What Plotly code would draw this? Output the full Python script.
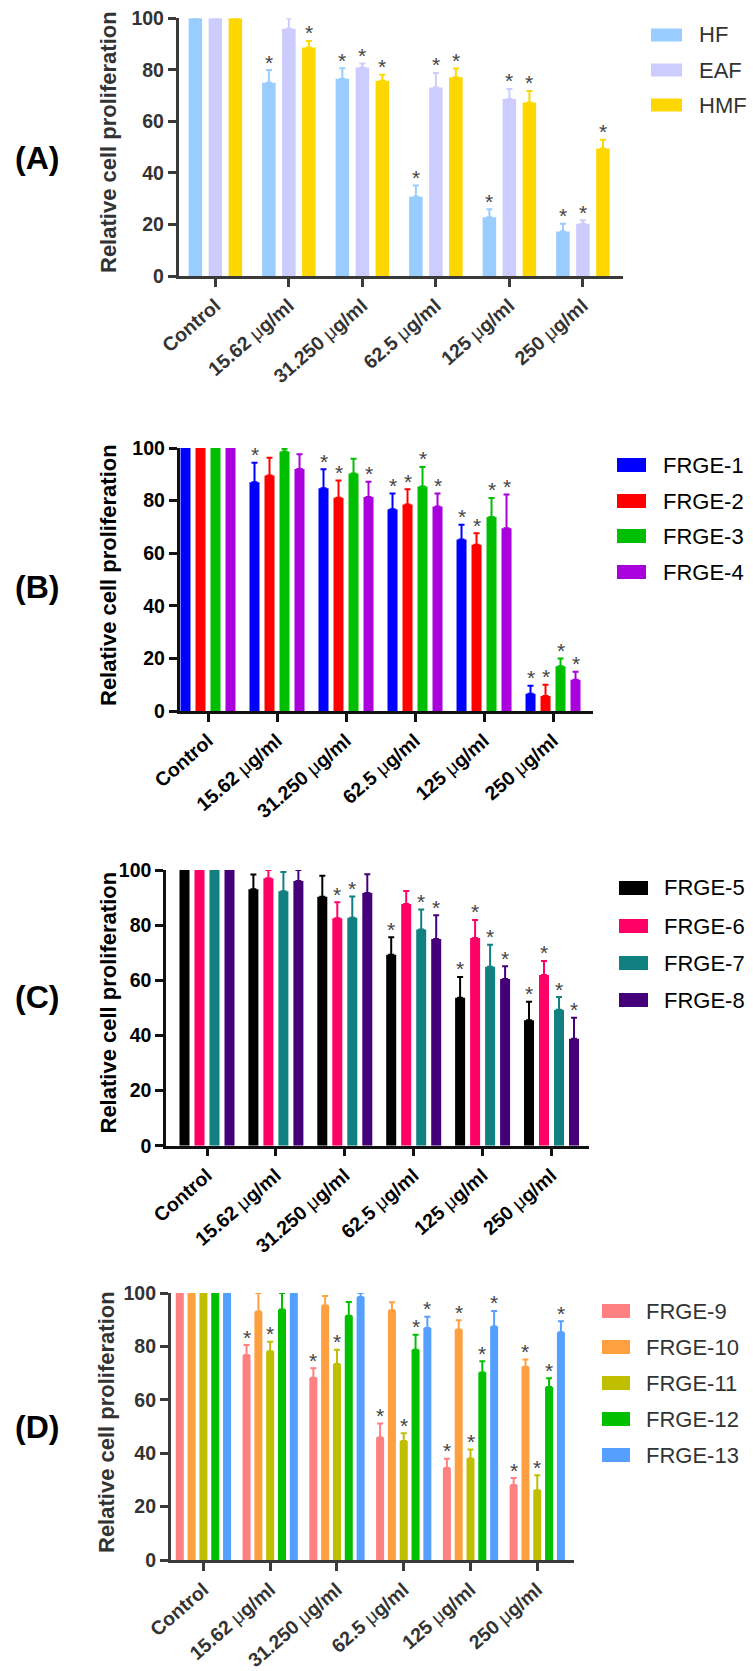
import plotly.graph_objects as go

W, H = 753, 1671

categories = ["Control", "15.62 μg/ml", "31.250 μg/ml", "62.5 μg/ml", "125 μg/ml", "250 μg/ml"]

# ---- Panel A ----
a_names = ["HF", "EAF", "HMF"]
a_colors = ["#99CCFF", "#CCCCFF", "#FFD700"]
a_hf = [100, 75.0, 76.5, 30.8, 22.8, 17.3]
a_hf_err = [0, 4.9, 4.1, 4.3, 3.1, 3.0]
a_hf_sig = [0, 1, 1, 1, 1, 1]
a_eaf = [100, 95.9, 80.9, 73.1, 68.7, 20.3]
a_eaf_err = [0, 4.1, 1.6, 5.7, 3.9, 1.3]
a_eaf_sig = [0, 0, 1, 1, 1, 1]
a_hmf = [100, 88.7, 75.8, 77.1, 67.3, 49.5]
a_hmf_err = [0, 2.5, 2.3, 3.4, 4.5, 3.4]
a_hmf_sig = [0, 1, 1, 1, 1, 1]

# ---- Panel B ----
b_names = ["FRGE-1", "FRGE-2", "FRGE-3", "FRGE-4"]
b_colors = ["#0000FF", "#FF0000", "#00BF00", "#AA00DD"]
b_1 = [100, 87.0, 84.7, 76.7, 65.2, 6.6]
b_1_err = [0, 7.4, 7.2, 6.0, 5.6, 3.0]
b_1_sig = [0, 1, 1, 1, 1, 1]
b_2 = [100, 89.5, 81.1, 78.5, 63.2, 5.7]
b_2_err = [0, 6.8, 6.5, 5.8, 4.4, 4.3]
b_2_sig = [0, 0, 1, 1, 1, 1]
b_3 = [100, 98.7, 90.3, 85.4, 73.8, 17.0]
b_3_err = [0, 1.0, 5.6, 7.4, 7.2, 3.0]
b_3_sig = [0, 0, 0, 1, 1, 1]
b_4 = [100, 92.0, 81.4, 77.8, 69.5, 11.9]
b_4_err = [0, 5.6, 5.8, 4.9, 12.8, 3.0]
b_4_sig = [0, 0, 1, 1, 1, 1]

# ---- Panel C ----
c_names = ["FRGE-5", "FRGE-6", "FRGE-7", "FRGE-8"]
c_colors = ["#000000", "#FF0066", "#108080", "#440078"]
c_5 = [100, 93.0, 90.3, 69.3, 53.7, 45.5]
c_5_err = [0, 5.4, 7.6, 6.3, 7.5, 6.7]
c_5_sig = [0, 0, 0, 1, 1, 1]
c_6 = [100, 97.0, 82.5, 87.7, 75.3, 61.9]
c_6_err = [0, 3.0, 5.8, 4.7, 6.6, 5.1]
c_6_sig = [0, 0, 1, 0, 1, 1]
c_7 = [100, 92.3, 82.7, 78.4, 64.9, 49.3]
c_7_err = [0, 7.0, 7.7, 7.3, 8.0, 4.6]
c_7_sig = [0, 0, 1, 1, 1, 1]
c_8 = [100, 96.0, 91.7, 75.0, 60.5, 38.8]
c_8_err = [0, 4.0, 6.8, 8.6, 4.6, 7.6]
c_8_sig = [0, 0, 0, 1, 1, 1]

# ---- Panel D ----
d_names = ["FRGE-9", "FRGE-10", "FRGE-11", "FRGE-12", "FRGE-13"]
d_colors = ["#FF8080", "#FFA040", "#BFBF00", "#00C000", "#55A0FF"]
d_9 = [100, 76.8, 68.3, 45.9, 34.5, 28.1]
d_9_err = [0, 3.7, 3.5, 5.2, 3.4, 2.6]
d_9_sig = [0, 1, 1, 1, 1, 1]
d_10 = [100, 93.1, 95.3, 93.5, 86.3, 72.4]
d_10_err = [0, 6.9, 3.6, 3.0, 3.5, 2.7]
d_10_sig = [0, 0, 0, 0, 1, 1]
d_11 = [100, 78.2, 73.4, 44.6, 38.0, 26.1]
d_11_err = [0, 3.5, 5.3, 2.9, 3.4, 5.6]
d_11_sig = [0, 1, 1, 1, 1, 1]
d_12 = [100, 93.8, 91.5, 78.7, 70.2, 64.8]
d_12_err = [0, 6.2, 5.1, 5.7, 4.2, 3.3]
d_12_sig = [0, 0, 0, 1, 1, 1]
d_13 = [100, 100, 98.5, 86.9, 87.5, 85.3]
d_13_err = [0, 0, 1.5, 4.2, 5.8, 4.1]
d_13_sig = [0, 0, 0, 1, 1, 1]

y_ticks = [0, 20, 40, 60, 80, 100]
y_title = "Relative cell proliferation"
panel_labels = ["(A)", "(B)", "(C)", "(D)"]

FONT = "Liberation Sans, Arial, sans-serif"


def tick_text(c):
    return c.replace("μ", "<span style='font-weight:normal'>μ</span>")


panels = [
    dict(names=a_names, colors=a_colors,
         vals=[a_hf, a_eaf, a_hmf], errs=[a_hf_err, a_eaf_err, a_hmf_err],
         sigs=[a_hf_sig, a_eaf_sig, a_hmf_sig],
         x0=178.6, x1=622.6, yt=18.3, yb=276, xr=[-0.5, 5.54],
         slot=20 / 73.5, bw=13.5 / 73.5, txt="#333333", line="#3a3a3a",
         leg_x0=651, leg_x1=682, leg_h=13, leg_y=[35, 70, 105], leg_tx=697,
         title_x=108.5, title_y=142.5, lab_y=158),
    dict(names=b_names, colors=b_colors,
         vals=[b_1, b_2, b_3, b_4], errs=[b_1_err, b_2_err, b_3_err, b_4_err],
         sigs=[b_1_sig, b_2_sig, b_3_sig, b_4_sig],
         x0=179.5, x1=592.7, yt=448, yb=711, xr=[-0.413, 5.575],
         slot=15 / 69, bw=10 / 69, txt="#000000", line="#111111",
         leg_x0=617, leg_x1=646, leg_h=14, leg_y=[465, 501, 536, 572], leg_tx=661,
         title_x=108, title_y=575, lab_y=587),
    dict(names=c_names, colors=c_colors,
         vals=[c_5, c_6, c_7, c_8], errs=[c_5_err, c_6_err, c_7_err, c_8_err],
         sigs=[c_5_sig, c_6_sig, c_7_sig, c_8_sig],
         x0=166, x1=588.5, yt=870, yb=1145.7, xr=[-0.595, 5.537],
         slot=15 / 68.9, bw=10 / 68.9, txt="#000000", line="#111111",
         leg_x0=619, leg_x1=648, leg_h=14, leg_y=[888, 926, 963, 1000], leg_tx=662,
         title_x=107.5, title_y=1003, lab_y=997),
    dict(names=d_names, colors=d_colors,
         vals=[d_9, d_10, d_11, d_12, d_13],
         errs=[d_9_err, d_10_err, d_11_err, d_12_err, d_13_err],
         sigs=[d_9_sig, d_10_sig, d_11_sig, d_12_sig, d_13_sig],
         x0=170.7, x1=574, yt=1293, yb=1560, xr=[-0.49, 5.55],
         slot=11.8 / 66.7, bw=8 / 66.7, txt="#333333", line="#3a3a3a",
         leg_x0=602, leg_x1=630, leg_h=14, leg_y=[1311, 1347, 1383, 1419, 1455], leg_tx=644,
         title_x=106, title_y=1422, lab_y=1427),
]

fig = go.Figure()
annotations = []
shapes = []
xs = list(range(len(categories)))

for p_i, p in enumerate(panels):
    k = "" if p_i == 0 else str(p_i + 1)
    xa, ya = "x" + k, "y" + k
    n = len(p["names"])
    for s_i in range(n):
        center = (s_i - (n - 1) / 2) * p["slot"]
        vals, errs, sigs = p["vals"][s_i], p["errs"][s_i], p["sigs"][s_i]
        fig.add_trace(go.Bar(
            x=xs, y=vals, name=p["names"][s_i], xaxis=xa, yaxis=ya,
            width=p["bw"], offset=center - p["bw"] / 2,
            marker=dict(color=p["colors"][s_i], line=dict(width=0)),
            error_y=dict(type="data", array=errs, arrayminus=[0] * len(errs),
                         symmetric=False, color=p["colors"][s_i],
                         thickness=2, width=3),
            showlegend=False,
        ))
        for c_i, sflag in enumerate(sigs):
            if sflag:
                annotations.append(dict(
                    x=c_i + center, y=vals[c_i] + errs[c_i], xref=xa, yref=ya,
                    text="*", showarrow=False, yanchor="middle", yshift=8,
                    font=dict(family=FONT, size=21, color="#444444")))
        # legend swatch + text
        yc = p["leg_y"][s_i]
        shapes.append(dict(type="rect", xref="paper", yref="paper",
                           x0=p["leg_x0"] / W, x1=p["leg_x1"] / W,
                           y0=1 - (yc + p["leg_h"] / 2) / H, y1=1 - (yc - p["leg_h"] / 2) / H,
                           fillcolor=p["colors"][s_i], line=dict(width=0)))
        annotations.append(dict(x=p["leg_tx"] / W, y=1 - yc / H, xref="paper", yref="paper",
                                text=p["names"][s_i], showarrow=False,
                                xanchor="left", yanchor="middle",
                                font=dict(family=FONT, size=22, color=p["txt"])))

    axfont = dict(family=FONT, size=19.5, color=p["txt"], weight="bold")
    fig.layout["xaxis" + k] = dict(
        domain=[p["x0"] / W, p["x1"] / W], anchor=ya, range=p["xr"],
        tickmode="array", tickvals=xs, ticktext=[tick_text(c) for c in categories],
        tickangle=-41, ticks="outside", ticklen=8, tickwidth=2.5, tickcolor=p["line"],
        showline=True, linewidth=2.5, linecolor=p["line"], showgrid=False, zeroline=False,
        tickfont=axfont, fixedrange=True, automargin=False)
    fig.layout["yaxis" + k] = dict(
        domain=[1 - p["yb"] / H, 1 - p["yt"] / H], anchor=xa, range=[0, 100],
        tickmode="array", tickvals=y_ticks, ticks="outside", ticklen=8, tickwidth=2.5,
        tickcolor=p["line"], showline=True, linewidth=2.5, linecolor=p["line"],
        showgrid=False, zeroline=False, tickfont=axfont, fixedrange=True, automargin=False)

    annotations.append(dict(x=p["title_x"] / W, y=1 - p["title_y"] / H, xref="paper", yref="paper",
                            text=y_title, textangle=-90, showarrow=False,
                            xanchor="center", yanchor="middle",
                            font=dict(family=FONT, size=22, color=p["txt"], weight="bold")))
    annotations.append(dict(x=37 / W, y=1 - p["lab_y"] / H, xref="paper", yref="paper",
                            text=panel_labels[p_i], showarrow=False,
                            xanchor="center", yanchor="middle",
                            font=dict(family=FONT, size=32, color="#000000", weight="bold")))

fig.update_layout(
    template="none",
    width=W, height=H, margin=dict(l=0, r=0, t=0, b=0, pad=0, autoexpand=False),
    paper_bgcolor="white", plot_bgcolor="white",
    barmode="overlay", showlegend=False,
    annotations=annotations, shapes=shapes,
)

fig.write_html("out.html", config={"displayModeBar": False},
               post_script="document.body.style.margin='0';document.body.style.padding='0';")
